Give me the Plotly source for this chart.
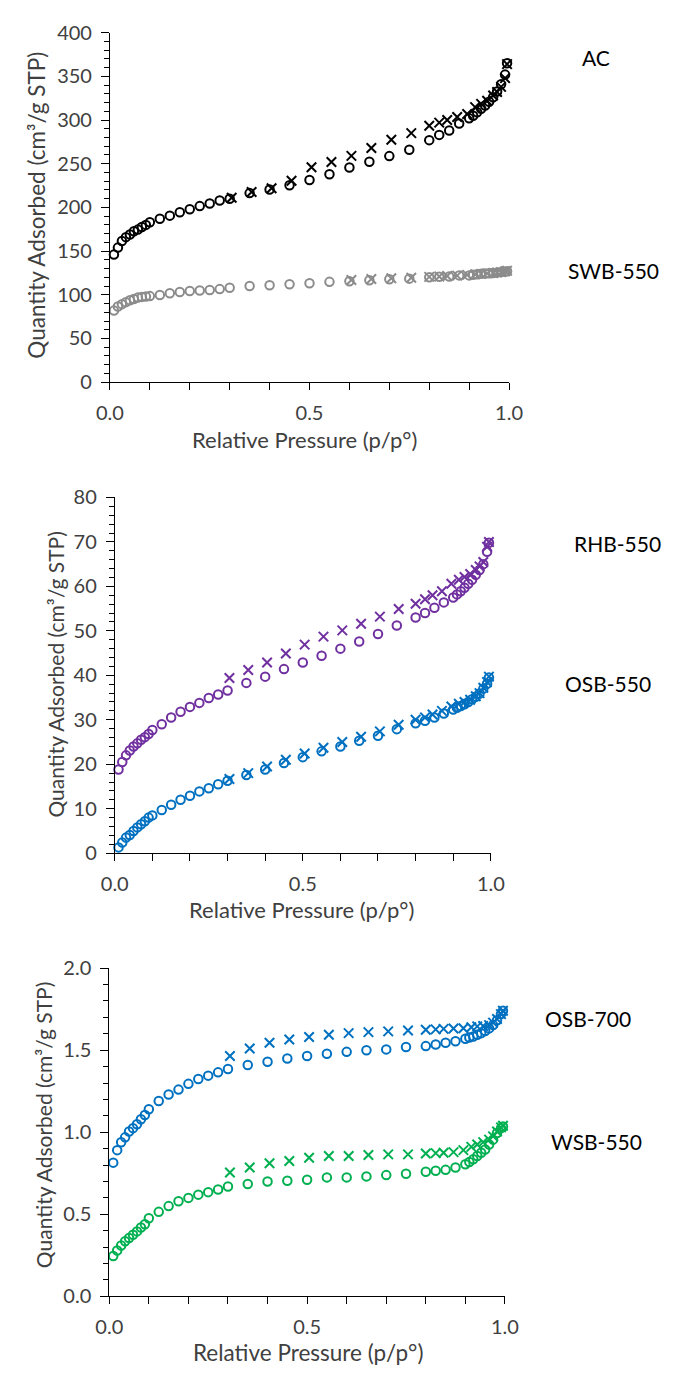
import plotly.graph_objects as go

W, H = 690, 1385

# Relative pressures (p/p°)
p_ads = [0.01, 0.02, 0.03, 0.04, 0.05, 0.06, 0.07, 0.08, 0.09, 0.10,
         0.125, 0.15, 0.175, 0.20, 0.225, 0.25, 0.275, 0.30, 0.35, 0.40,
         0.45, 0.50, 0.55, 0.60, 0.65, 0.70, 0.75, 0.80, 0.825, 0.85,
         0.875, 0.90, 0.91, 0.92, 0.93, 0.94, 0.95, 0.96, 0.97, 0.98, 0.99, 0.995]
p_des = [0.305, 0.355, 0.405, 0.455, 0.505, 0.555, 0.605, 0.655, 0.705, 0.755,
         0.80, 0.825, 0.845, 0.87, 0.895, 0.915, 0.93, 0.945, 0.96, 0.97, 0.98, 0.99, 0.995]

# Panel 1
ac_ads = [146, 154, 161.5, 166, 169, 172.7, 174.6, 177.6, 180, 183,
          187, 190.6, 194.4, 198, 201.5, 204.5, 208, 210, 216.4, 220.5,
          225.4, 231.4, 238, 245.6, 252.3, 258.7, 266, 277, 283, 288,
          296, 302, 305, 309, 313, 316.6, 321, 326, 332.7, 341, 352, 365]
ac_des = [211, 217.6, 222, 230.6, 246, 252, 259, 268, 277.4, 285,
          293.5, 297, 300, 303.5, 307, 314.8, 318.5, 322, 328, 332, 338, 348, 364]
swb_ads = [81.9, 86.7, 89.3, 91.6, 93.8, 95.3, 96.8, 97.6, 98, 98.5,
           99.8, 101.7, 103.2, 104.3, 105, 105.4, 106.5, 108, 110, 111,
           112, 113.3, 114.8, 115.5, 116.6, 117.8, 118.5, 120, 120.7, 121,
           122.2, 122.2, 123, 123.5, 124, 124.3, 124.6, 125, 125.4, 126, 126.5, 127]
swb_des = [None, None, None, None, None, None, 117, 118, 119, 119.5,
           120.5, 121, 121.5, 122, 122.8, 123.5, 124, 124.5, 125, 125.5, 126, 127, 127.5]

# Panel 2
rhb_ads = [18.8, 20.5, 22, 23.1, 24, 24.7, 25.5, 26.1, 26.8, 27.7,
           29, 30.5, 31.8, 32.9, 33.8, 34.9, 35.7, 36.6, 38.3, 39.7,
           41.4, 42.9, 44.4, 46, 47.6, 49.3, 51.2, 53, 54, 55.2,
           56.4, 57.5, 58.2, 58.9, 59.7, 60.6, 61.5, 62.6, 63.7, 65, 67.8, 69.8]
rhb_des = [39.4, 41.2, 42.9, 44.9, 46.9, 48.7, 50.1, 51.6, 53.2, 54.9,
           56.1, 57.1, 58, 58.9, 60.6, 61.5, 62.1, 62.8, 63.7, 64.5, 65.5, 68.9, 70]
osb550_ads = [1.3, 2.4, 3.5, 4.1, 5, 5.8, 6.5, 7.2, 8, 8.5,
              9.7, 10.9, 12, 12.9, 13.9, 14.6, 15.5, 16.3, 17.6, 18.8,
              20.3, 21.6, 22.9, 24, 25.3, 26.4, 27.9, 29.2, 29.8, 30.5,
              31.4, 32.3, 32.7, 33.1, 33.5, 34, 34.6, 35.2, 35.9, 37, 38.1, 39.5]
osb550_des = [16.7, 18, 19.5, 21, 22.4, 23.7, 25, 26.2, 27.4, 28.9,
              30, 30.5, 31.2, 32, 33, 33.6, 34, 34.5, 35.3, 36, 37.2, 38.5, 39.7]

# Panel 3
osb700_ads = [0.815, 0.891, 0.939, 0.969, 1.005, 1.025, 1.049, 1.079, 1.105, 1.14,
              1.19, 1.23, 1.26, 1.295, 1.325, 1.345, 1.365, 1.385, 1.41, 1.43,
              1.45, 1.465, 1.478, 1.49, 1.5, 1.505, 1.52, 1.525, 1.535, 1.545,
              1.555, 1.57, 1.577, 1.583, 1.594, 1.604, 1.617, 1.633, 1.653, 1.683, 1.72, 1.74]
osb700_des = [1.465, 1.51, 1.545, 1.565, 1.58, 1.594, 1.604, 1.61, 1.615, 1.62,
              1.625, 1.627, 1.63, 1.632, 1.634, 1.64, 1.645, 1.648, 1.653, 1.668, 1.69, 1.72, 1.74]
wsb_ads = [0.246, 0.28, 0.31, 0.336, 0.356, 0.376, 0.396, 0.42, 0.44, 0.476,
           0.515, 0.55, 0.58, 0.6, 0.62, 0.635, 0.651, 0.67, 0.685, 0.7,
           0.705, 0.711, 0.725, 0.725, 0.731, 0.739, 0.747, 0.759, 0.765, 0.771,
           0.785, 0.805, 0.819, 0.835, 0.855, 0.875, 0.895, 0.925, 0.955, 0.995, 1.025, 1.035]
wsb_des = [0.755, 0.785, 0.811, 0.825, 0.845, 0.855, 0.855, 0.861, 0.865, 0.865,
           0.871, 0.873, 0.875, 0.879, 0.891, 0.911, 0.925, 0.94, 0.955, 0.975, 1.005, 1.03, 1.04]

C_AC, C_SWB, C_RHB, C_OSB, C_WSB = "#000000", "#8c8c8c", "#7030A0", "#0070C0", "#00B050"

FONT = "Lato"
TXT = "#404040"

# panel pixel boxes: (x0, x1, ytop, ybottom)
boxes = [(100, 516, 20, 375.7), (105, 497, 493, 855), (99.3, 511.7, 972, 1306)]

fig = go.Figure()

def add_pair(idx, ads, des, color):
    xa = "x" if idx == 1 else f"x{idx}"
    ya = "y" if idx == 1 else f"y{idx}"
    fig.add_trace(go.Scatter(x=p_ads, y=ads, mode="markers", xaxis=xa, yaxis=ya,
                             marker=dict(symbol="circle-open", size=8.5, color=color,
                                         line=dict(width=2, color=color)),
                             cliponaxis=False, showlegend=False))
    fig.add_trace(go.Scatter(x=p_des, y=des, mode="markers", xaxis=xa, yaxis=ya,
                             marker=dict(symbol="x-thin-open", size=9.5, color=color,
                                         line=dict(width=2, color=color)),
                             cliponaxis=False, showlegend=False))

add_pair(1, ac_ads, ac_des, C_AC)
add_pair(1, swb_ads, swb_des, C_SWB)
add_pair(2, rhb_ads, rhb_des, C_RHB)
add_pair(2, osb550_ads, osb550_des, C_OSB)
add_pair(3, osb700_ads, osb700_des, C_OSB)
add_pair(3, wsb_ads, wsb_des, C_WSB)

yranges = [(0, 400, 50, 10, None), (0, 80, 10, 2, None), (0, 2.0, 0.5, 0.1, ".1f")]

layout = {}
for i, (box, yr) in enumerate(zip(boxes, yranges), start=1):
    x0, x1, yt, yb = box
    sx = "" if i == 1 else str(i)
    layout[f"xaxis{sx}"] = dict(
        domain=[x0 / W, x1 / W], anchor=f"y{sx}", range=[0, 1],
        tickvals=[0, 0.5, 1.0], ticktext=["0.0", "0.5", "1.0"],
        ticks="outside", ticklen=7, tickwidth=1, tickcolor="#000",
        minor=dict(dtick=0.1, tick0=0, ticks="outside", ticklen=7, tickcolor="#000", tickwidth=1),
        showline=True, linecolor="#000", linewidth=1, showgrid=False, zeroline=False,
        tickfont=dict(family=FONT, size=20, color=TXT), ticklabelstandoff=6,
        fixedrange=True)
    lo, hi, dt, mdt, fmt = yr
    ya = dict(
        domain=[1 - yb / H, 1 - yt / H], anchor=f"x{sx}", range=[lo, hi],
        dtick=dt, tick0=0, ticks="outside", ticklen=8, tickwidth=1, tickcolor="#000",
        minor=dict(dtick=mdt, tick0=0, ticks="outside", ticklen=5, tickcolor="#000", tickwidth=1),
        showline=True, linecolor="#000", linewidth=1, showgrid=False, zeroline=False,
        tickfont=dict(family=FONT, size=20, color=TXT), ticklabelstandoff=5,
        fixedrange=True)
    if fmt:
        ya["tickformat"] = fmt
    layout[f"yaxis{sx}"] = ya

ann = []
def px_ann(text, x, y, size, color="#000", angle=0):
    ann.append(dict(text=text, x=x / W, y=1 - y / H, xref="paper", yref="paper",
                    showarrow=False, xanchor="center", yanchor="middle", textangle=angle,
                    font=dict(family=FONT, size=size, color=color)))

ytitle = "Quantity Adsorbed (cm³/g STP)"
xtitle = "Relative Pressure (p/p°)"
px_ann(ytitle, 24, 196, 22.5, TXT, -90)
px_ann(ytitle, 43, 673, 21, TXT, -90)
px_ann(ytitle, 31, 1132, 21, TXT, -90)
px_ann(xtitle, 303, 434, 22, TXT)
px_ann(xtitle, 300, 912, 22, TXT)
px_ann(xtitle, 306, 1363, 22.5, TXT)

px_ann("AC", 607, 45, 21)
px_ann("SWB-550", 625, 262, 21)
px_ann("RHB-550", 629, 540, 21)
px_ann("OSB-550", 619, 682, 21)
px_ann("OSB-700", 598, 1023, 21)
px_ann("WSB-550", 607, 1148, 21)

fig.update_layout(width=W, height=H, margin=dict(l=0, r=0, t=0, b=0),
                  paper_bgcolor="white", plot_bgcolor="white",
                  annotations=ann, **layout)

fig.write_html("out.html", config={"displayModeBar": False})
